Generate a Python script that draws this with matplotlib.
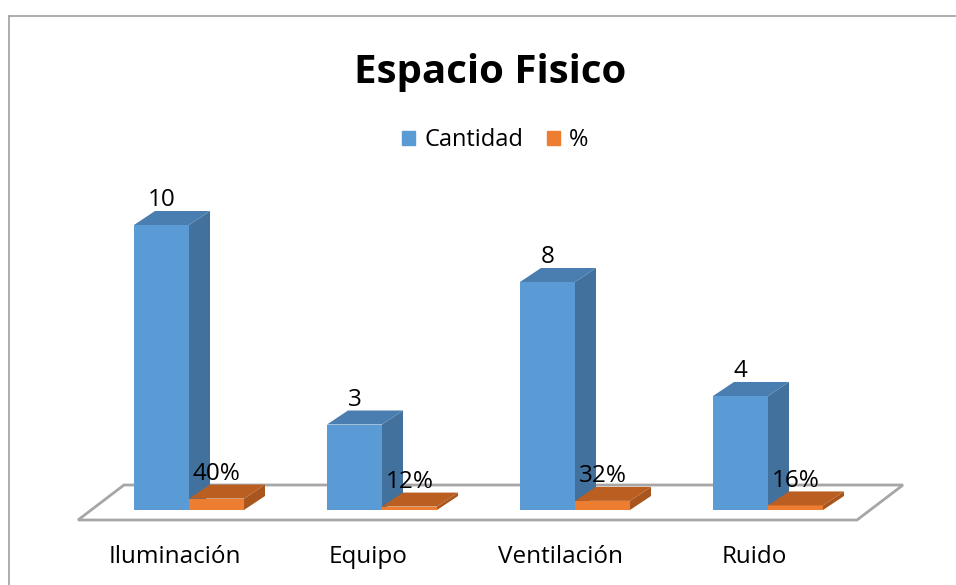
import matplotlib
matplotlib.use("Agg")
import matplotlib.pyplot as plt
from matplotlib.patches import Polygon, Patch

plt.rcParams['font.family'] = ['Open Sans', 'DejaVu Sans']

# datos
categorias = ["Iluminación", "Equipo", "Ventilación", "Ruido"]
cantidad = [10, 3, 8, 4]
porcentaje = [0.40, 0.12, 0.32, 0.16]
etiq_cant = ["10", "3", "8", "4"]
etiq_pct = ["40%", "12%", "32%", "16%"]

W, H = 956, 585
fig = plt.figure(figsize=(W / 100, H / 100), dpi=100)
ax = fig.add_axes([0, 0, 1, 1])

# escala: 193 px por categoria, 28.5 px por unidad
px_x, px_y = 193.0, 28.5
x0_px, y0_px = 189.0, H - 510.0
ax.set_xlim(-x0_px / px_x, (W - x0_px) / px_x)
ax.set_ylim(-y0_px / px_y, (H - y0_px) / px_y)
ax.axis("off")

# profundidad de las barras (en unidades de datos)
ddx, ddy = 21 / px_x, 14 / px_y
ancho = 55 / px_x

azul = ("#5B9BD5", "#41719C", "#4A7DB0")
naranja = ("#ED7D31", "#A9561E", "#BA5F21")

# piso
fx0, fx1 = (78 - x0_px) / px_x, (857 - x0_px) / px_x
fy0, fy1 = -10 / px_y, 25 / px_y
fdx = 46 / px_x
piso = Polygon([(fx0, fy0), (fx1, fy0), (fx1 + fdx, fy1), (fx0 + fdx, fy1)],
               closed=True, facecolor="white", edgecolor="#A6A6A6", lw=2, zorder=1)
ax.add_patch(piso)


def barra3d(x, h, cols):
    ax.bar(x, h, width=ancho, align="edge", color=cols[0], zorder=3)
    lado = Polygon([(x + ancho, 0), (x + ancho + ddx, ddy), (x + ancho + ddx, h + ddy), (x + ancho, h)],
                   closed=True, facecolor=cols[1], edgecolor="none", zorder=3)
    tapa = Polygon([(x, h), (x + ddx, h + ddy), (x + ancho + ddx, h + ddy), (x + ancho, h)],
                   closed=True, facecolor=cols[2], edgecolor="none", zorder=3)
    ax.add_patch(lado)
    ax.add_patch(tapa)


for i in range(len(categorias)):
    barra3d(i - ancho, cantidad[i], azul)
    barra3d(i, porcentaje[i], naranja)
    ax.annotate(etiq_cant[i], (i - ancho / 2, cantidad[i] + ddy), xytext=(0, -1),
                textcoords="offset points", ha="center", va="bottom", fontsize=17.5, zorder=5)
    ax.annotate(etiq_pct[i], (i + ancho / 2, porcentaje[i] + ddy), xytext=(0, -1),
                textcoords="offset points", ha="center", va="bottom", fontsize=17.5, zorder=5)
    ax.text(i - 14 / px_x, -47 / px_y, categorias[i], ha="center", va="center", fontsize=17.5)

fig.text(490 / W, 1 - 73 / H, "Espacio Fisico", ha="center", va="center",
         fontsize=29, fontweight="bold")

handles = [Patch(color=azul[0], label="Cantidad"), Patch(color=naranja[0], label="%")]
fig.legend(handles=handles, loc="center", bbox_to_anchor=(495 / W, 1 - 140 / H), ncol=2,
           frameon=False, fontsize=17, handlelength=0.55, handleheight=0.55,
           handletextpad=0.4, columnspacing=1.0)

# marco
fig.add_artist(plt.Line2D([9 / W, 9 / W], [0, 1 - 16 / H], transform=fig.transFigure,
                          color="#A0A0A0", lw=1.2))
fig.add_artist(plt.Line2D([9 / W, 1], [1 - 16 / H, 1 - 16 / H], transform=fig.transFigure,
                          color="#A0A0A0", lw=1.2))

fig.savefig("out.png", dpi=100)
